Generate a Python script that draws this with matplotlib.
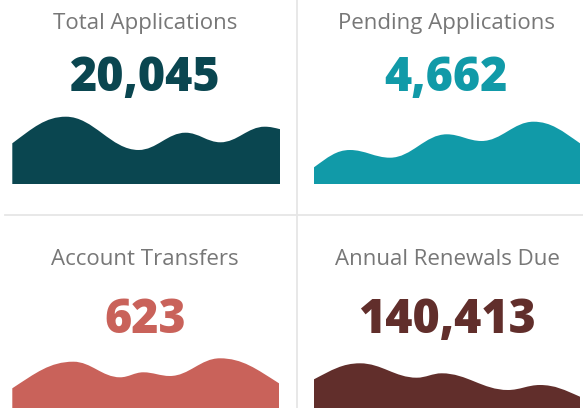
import numpy as np
import matplotlib
matplotlib.use("Agg")
import matplotlib.pyplot as plt
from matplotlib.path import Path
from matplotlib.patches import PathPatch

# ---------------- data ----------------
titles = ["Total Applications", "Pending Applications", "Account Transfers", "Annual Renewals Due"]
values = [20045, 4662, 623, 140413]
colors = ["#0a4650", "#119aa8", "#c9625a", "#612e2b"]

# sparkline series (x: position along series 0-100, y: value)
spark_x = [
    [0, 20, 47.1, 64.6, 77.6, 94.1, 100],
    [0, 13.5, 28.6, 49.9, 63.0, 82.5, 100],
    [0, 22.9, 40.4, 49.1, 59.1, 77.8, 100],
    [0, 17.3, 38.6, 48.0, 72.9, 84.9, 100],
]
spark_y = [
    [40.7, 67.3, 34.0, 51.3, 41.7, 57.3, 54.7],
    [16.7, 34.0, 26.3, 49.7, 43.0, 62.3, 40.7],
    [30.7, 57.3, 41.7, 46.7, 43.0, 60.7, 35.7],
    [39.7, 55.7, 41.3, 45.7, 29.0, 34.0, 22.3],
]

# ---------------- helpers ----------------
W, H = 583, 408
plt.rcParams['font.family'] = ['Open Sans', 'DejaVu Sans']


def smooth_path(x, y):
    x = np.asarray(x, float)
    y = np.asarray(y, float)
    n = len(x)
    h = np.diff(x)
    s = np.diff(y) / h
    t = np.zeros(n)
    for i in range(1, n - 1):
        p = (s[i - 1] * h[i] + s[i] * h[i - 1]) / (h[i - 1] + h[i])
        t[i] = (np.sign(s[i - 1]) + np.sign(s[i])) * min(abs(s[i - 1]), abs(s[i]), 0.5 * abs(p))
    t[0] = (3 * s[0] - t[1]) / 2
    t[-1] = (3 * s[-1] - t[-2]) / 2
    verts = [(x[0], 0), (x[0], y[0])]
    codes = [Path.MOVETO, Path.LINETO]
    k = 0.38
    for i in range(n - 1):
        dx = h[i] * k
        verts += [(x[i] + dx, y[i] + dx * t[i]), (x[i + 1] - dx, y[i + 1] - dx * t[i + 1]), (x[i + 1], y[i + 1])]
        codes += [Path.CURVE4] * 3
    verts += [(x[-1], 0), (x[0], 0)]
    codes += [Path.LINETO, Path.CLOSEPOLY]
    return Path(verts, codes)


def fx(px):
    return px / W


def fy(py):
    return 1 - py / H


fig = plt.figure(figsize=(W / 100, H / 100), dpi=100)
fig.patch.set_facecolor("white")

# divider lines
fig.add_artist(plt.Line2D([fx(297.3), fx(297.3)], [0, 1], color="#e6e6e6", lw=1.3))
fig.add_artist(plt.Line2D([fx(5), fx(583)], [fy(214.7), fy(214.7)], color="#e6e6e6", lw=1.3))

# panel layout (pixels)
centers_x = [145, 446, 145, 447]
title_base = [29.3, 29.3, 265.0, 265.0]
num_base = [90.7, 90.7, 333.3, 333.3]
area_x0 = [12.3, 314, 12.3, 314]
area_x1 = [280.5, 580, 279, 580]
area_base = [184, 184, 419, 419]

for i in range(4):
    fig.text(fx(centers_x[i]), fy(title_base[i]), titles[i], ha="center", va="baseline",
             fontsize=16, color="#777777")
    fig.text(fx(centers_x[i]), fy(num_base[i]), f"{values[i]:,}", ha="center", va="baseline",
             fontsize=33.5, fontweight="heavy", color=colors[i])
    ax = fig.add_axes([fx(area_x0[i]), fy(area_base[i]), (area_x1[i] - area_x0[i]) / W, 80 / H])
    ax.add_patch(PathPatch(smooth_path(spark_x[i], spark_y[i]), facecolor=colors[i], edgecolor="none"))
    ax.set_xlim(0, 100)
    ax.set_ylim(0, 80)
    ax.axis("off")

fig.savefig("out.png", dpi=100)
